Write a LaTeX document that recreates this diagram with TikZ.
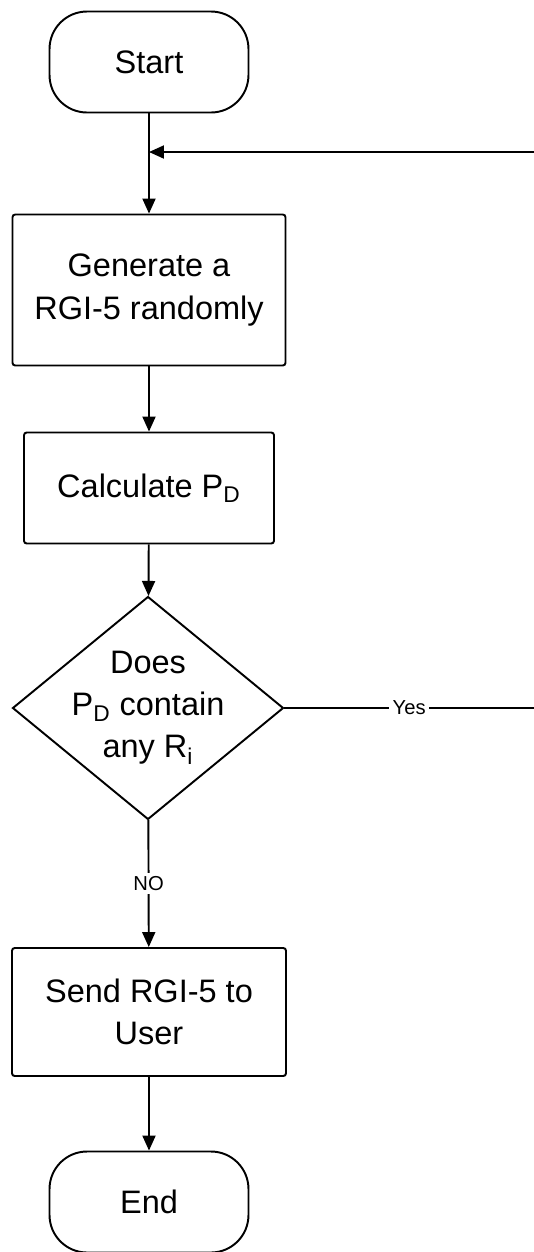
\documentclass[tikz,border=0pt]{standalone}
\usepackage{fontspec}
\setmainfont{Liberation Sans}
\usetikzlibrary{shapes.geometric,arrows.meta}

\begin{document}
\begin{tikzpicture}[x=0.02cm, y=-0.02cm, line width=1.1pt,
    >={Triangle[length=0.3cm,width=0.26cm]},
    txt/.style={font=\fontsize{18.5}{24}\selectfont, align=center},
    terminal/.style={draw, rounded corners=0.75cm, minimum width=3.98cm, minimum height=2.02cm, txt},
    process/.style={draw, rounded corners=1.5pt, txt},
    decision/.style={draw, diamond, minimum width=5.42cm, minimum height=4.46cm, inner sep=0pt},
    edgelabel/.style={font=\fontsize{11.5}{14}\selectfont, fill=white, inner sep=2pt}]
    \useasboundingbox (0,0) rectangle (534,1252);

    % Nodes
    \node[terminal] (start) at (149,62) {Start};
    \node[process, minimum width=5.46cm, minimum height=3.02cm] (gen) at (149,290) {Generate a\\RGI-5 randomly};
    \node[process, minimum width=5cm, minimum height=2.22cm] (calc) at (149,488) {Calculate P\textsubscript{D}};
    \node[decision] (dec) at (148,708) {};
    \node[txt] (dectext) at (dec) {Does\\P\textsubscript{D} contain\\any R\textsubscript{i}};
    \node[process, minimum width=5.48cm, minimum height=2.56cm] (send) at (149,1012) {Send RGI-5 to\\User};
    \node[terminal] (stop) at (149,1202) {End};

    % Loop back
    \coordinate (join) at (149,152);
    \coordinate (loopend) at (534,152);
    \coordinate (yesend) at (534,708);

    % Connectors
    \draw[->] (start) -- (gen);
    \draw[->] (loopend) -- (join);
    \draw[->] (gen) -- (calc);
    \draw[->] (calc) -- (dec);
    \draw (dec) -- node[edgelabel] {Yes} (yesend);
    \draw[->] (dec) -- node[edgelabel] {NO} (send);
    \draw[->] (send) -- (stop);
\end{tikzpicture}
\end{document}
